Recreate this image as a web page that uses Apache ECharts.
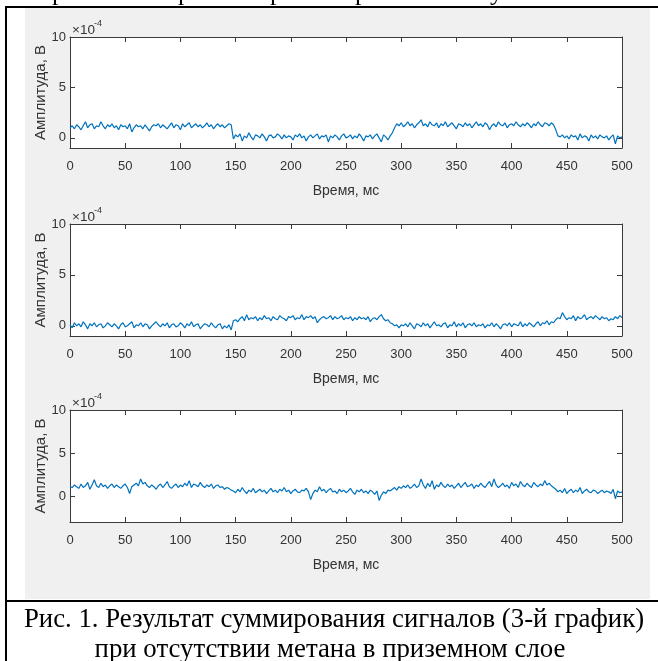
<!DOCTYPE html>
<html><head><meta charset="utf-8">
<script src="https://cdn.jsdelivr.net/npm/echarts@6/dist/echarts.min.js"></script>
<style>html,body{margin:0;padding:0;background:#fff;}#c{width:658px;height:661px;}</style>
</head><body><div id="c"></div>
<script>
// sample step (ms) between readings
const stepMs = 2;
const yTicks = [0, 5, 10];
const yMin1 = -1, yMin2 = -1, yMin3 = -3, yMax = 10;
const xLabel = 'Время, мс';
const yLabel = 'Амплитуда, В';
const caption1 = 'Рис. 1. Результат суммирования сигналов (3-й график)';
const caption2 = 'при отсутствии метана в приземном слое';

// amplitude values in units of 1e-4 V
const signal1 = [
1.0,1.2,0.9,1.3,1.1,0.8,1.2,1.6,1.0,1.3,1.4,0.9,1.2,1.1,1.6,1.2,0.9,1.3,1.1,1.4,
1.0,1.2,0.8,1.3,1.1,1.2,0.9,1.4,0.6,1.0,1.3,1.1,1.2,0.9,1.3,1.0,0.7,1.1,1.3,1.2,
1.4,1.0,1.3,1.1,0.9,1.2,1.5,1.0,1.3,1.2,0.8,1.4,1.1,1.3,1.5,1.0,1.2,1.4,1.1,1.3,
1.0,1.2,1.5,1.1,1.3,0.9,1.2,1.4,1.1,1.3,1.0,1.2,1.4,1.3,
-0.1,0.3,0.1,0.4,-0.3,0.2,0.0,0.5,0.1,-0.2,0.3,0.2,0.0,0.4,0.1,-0.3,0.2,0.3,0.0,0.1,
0.4,0.2,-0.1,0.3,0.0,0.2,0.1,-0.2,0.3,0.1,0.4,0.0,0.2,-0.3,0.1,0.3,0.0,0.2,0.4,-0.1,
0.2,0.1,0.3,-0.4,0.2,0.0,0.3,0.1,-0.2,0.2,0.4,0.0,0.1,0.3,-0.1,0.2,0.0,0.4,0.1,-0.3,
0.2,0.1,0.3,-0.1,0.2,0.4,0.0,-0.4,0.3,0.1,-0.2,0.2,
0.5,1.0,1.4,1.2,1.5,1.1,1.3,1.6,1.2,1.4,1.0,1.3,1.5,1.8,1.2,1.4,1.1,1.6,1.3,1.2,
1.5,1.0,1.4,1.2,1.6,1.1,1.3,1.5,1.2,0.9,1.4,1.3,1.1,1.5,1.2,1.4,1.0,1.3,1.6,1.2,
1.4,1.1,1.5,1.3,0.8,1.2,1.4,1.1,1.6,1.3,1.2,1.5,1.0,1.3,1.4,1.2,1.6,1.3,1.1,1.4,
1.2,1.5,1.3,1.0,1.4,1.2,1.6,1.3,1.1,1.5,1.4,1.2,1.5,1.3,
0.8,0.2,0.1,0.3,0.0,0.2,-0.1,0.3,0.1,0.2,-0.2,0.4,0.0,0.2,0.1,-0.3,0.3,0.0,0.2,-0.1,
0.3,0.1,0.0,0.2,-0.2,0.1,0.3,-0.6,0.2,0.0,0.1
];
const signal2 = [
0.1,-0.2,0.3,0.0,0.2,-0.1,0.4,0.1,-0.3,0.2,0.0,0.3,-0.1,0.1,0.2,-0.2,0.0,0.3,0.1,-0.1,
0.2,0.0,-0.3,0.1,0.3,-0.1,0.0,0.2,0.4,-0.2,0.1,0.0,0.3,-0.1,0.2,0.1,-0.3,0.0,0.2,0.4,
0.1,-0.1,0.2,0.0,0.3,-0.2,0.1,0.2,-0.1,0.0,0.3,0.1,-0.2,0.2,0.0,0.4,-0.1,0.1,0.2,-0.3,
0.0,0.2,0.1,-0.1,0.3,0.0,-0.2,0.1,0.2,-0.3,0.0,-0.2,0.1,-0.4,
0.5,0.6,0.4,0.7,0.9,0.5,1.1,0.6,0.8,0.7,0.9,0.5,0.8,0.6,1.0,0.7,0.8,0.5,0.9,0.7,
0.6,1.0,0.8,0.7,0.5,0.9,0.8,1.0,0.6,0.8,0.7,1.1,0.6,0.9,0.8,1.0,0.7,0.9,0.3,0.6,
0.8,0.9,0.7,0.8,1.0,0.6,0.9,0.7,0.8,1.0,0.6,0.8,0.7,0.9,0.5,0.8,0.6,0.9,0.7,0.8,
0.6,0.9,0.4,0.7,0.8,0.6,0.9,1.1,0.7,0.5,0.6,0.3,
0.2,0.0,0.1,-0.2,0.1,0.0,0.2,-0.1,0.3,0.0,-0.3,0.2,0.1,-0.1,0.3,0.0,0.2,-0.2,0.1,0.4,
0.0,0.1,-0.1,0.2,0.3,-0.2,0.1,0.0,0.4,-0.1,0.2,0.0,0.3,-0.2,0.1,0.2,0.0,0.3,-0.1,0.1,
0.0,0.2,-0.2,0.1,0.0,0.3,-0.1,0.2,0.0,-0.3,0.1,0.2,0.0,0.3,-0.1,0.2,0.1,0.0,0.4,-0.1,
0.2,0.0,0.3,0.1,-0.1,0.2,0.4,0.0,0.3,0.2,0.5,0.1,0.4,0.3,
0.6,0.8,0.7,1.3,0.9,0.6,0.8,0.7,1.0,0.5,0.9,0.7,0.8,1.1,0.6,0.8,0.9,0.7,1.0,0.8,
0.6,0.9,0.7,0.8,0.5,0.7,0.6,0.9,0.7,1.0,0.8
];
const signal3 = [
1.1,1.0,1.3,1.1,0.9,1.4,1.0,1.2,1.6,0.8,1.3,1.9,1.2,1.0,1.5,1.1,1.3,0.9,1.2,1.4,
1.0,1.3,1.1,0.9,1.2,1.4,1.0,0.3,1.1,1.3,1.5,1.2,2.0,1.4,1.6,1.2,1.0,1.3,1.1,0.8,
1.2,1.4,1.0,1.3,1.7,1.1,0.9,1.2,1.4,1.0,1.3,1.1,1.5,1.2,1.8,1.0,1.4,1.3,1.1,1.6,
1.2,1.0,1.3,1.1,1.4,0.9,1.2,1.3,1.0,1.1,0.8,1.0,0.9,0.7,
0.6,0.4,0.8,0.5,1.0,0.6,0.3,0.7,0.5,0.9,0.4,0.6,0.8,0.5,0.7,0.3,0.6,0.9,0.5,0.7,
0.4,0.8,0.6,1.0,0.5,0.7,0.3,0.6,0.8,0.5,0.4,0.7,0.6,0.9,0.5,-0.4,0.3,0.7,0.5,1.1,
0.6,0.8,0.4,0.7,0.9,0.5,0.6,0.3,0.8,0.5,0.7,0.4,0.6,0.9,0.5,0.2,0.7,0.5,0.8,0.4,
0.6,0.3,0.7,0.5,0.2,0.6,-0.5,0.1,0.5,0.3,0.7,0.6,
0.8,1.0,0.7,1.1,0.9,1.2,1.0,1.3,0.9,1.1,1.4,1.0,1.2,2.0,1.3,0.9,1.5,1.1,1.8,0.8,
1.3,1.1,1.6,1.2,1.0,1.4,1.1,1.3,0.9,1.2,1.5,1.0,1.3,1.6,1.1,1.2,1.4,0.9,1.3,1.1,
1.5,1.2,1.0,1.4,1.7,1.1,2.0,1.3,1.0,1.2,1.5,1.1,1.3,0.9,1.6,1.2,1.4,1.0,1.7,1.3,
1.1,1.5,1.2,1.0,1.6,1.3,1.1,1.4,1.2,1.8,1.3,1.5,1.2,1.0,
0.8,0.5,0.7,0.4,0.9,0.3,0.6,0.8,0.4,0.7,0.5,1.0,0.3,0.6,0.8,0.5,0.4,0.7,0.6,0.3,
0.5,0.7,0.4,0.6,0.5,0.3,0.8,-0.3,0.6,0.4,0.5
];

const chart = echarts.init(document.getElementById('c'), null, {renderer: 'canvas'});
const axisCol = '#3a3a3a';
const txtCol = '#333';
const font = 'Liberation Sans, Arial, sans-serif';
const serif = '"Liberation Serif", "Times New Roman", serif';
const grids = [
  {top: 37, height: 111, min: yMin1, data: signal1},
  {top: 224, height: 112, min: yMin2, data: signal2},
  {top: 410, height: 112, min: yMin3, data: signal3}
];
const xAxes = [], yAxes = [], series = [], gridOpts = [];
const graphics = [];
graphics.push({type: 'rect', shape: {x: 25, y: 8, width: 625, height: 591}, style: {fill: '#f0f0f0'}, z: -10, silent: true});
graphics.push({type: 'line', shape: {x1: 6, y1: 7, x2: 658, y2: 7}, style: {stroke: '#000', lineWidth: 2}});
graphics.push({type: 'line', shape: {x1: 6, y1: 6, x2: 6, y2: 661}, style: {stroke: '#000', lineWidth: 2}});
graphics.push({type: 'line', shape: {x1: 6, y1: 601, x2: 658, y2: 601}, style: {stroke: '#000', lineWidth: 2}});
// descenders of the previous (cut-off) text line
[[52, 'р'], [178, 'р'], [270, 'р'], [355, 'р'], [490, 'у']].forEach(p => {
  graphics.push({type: 'text', x: p[0], y: 6, style: {text: p[1], font: '26px ' + serif, fill: '#000', verticalAlign: 'bottom'}});
});
graphics.push({type: 'text', x: 334, y: 606, style: {text: caption1, font: '26.8px ' + serif, fill: '#000', align: 'center'}});
graphics.push({type: 'text', x: 330, y: 636, style: {text: caption2, font: '26.8px ' + serif, fill: '#000', align: 'center'}});

grids.forEach((g, i) => {
  gridOpts.push({left: 70, top: g.top, width: 552, height: g.height, show: true, backgroundColor: '#fff', borderWidth: 0});
  const pts = g.data.map((v, k) => [k * stepMs, v]);
  const axLine = {show: true, onZero: false, lineStyle: {color: axisCol, width: 1}};
  const tick = {show: true, inside: true, length: 5, lineStyle: {color: axisCol}};
  xAxes.push({gridIndex: i, type: 'value', position: 'bottom', min: 0, max: 500, interval: 50,
    axisLine: axLine, axisTick: tick, splitLine: {show: false},
    axisLabel: {color: txtCol, fontSize: 13, fontFamily: font, margin: 12, showMinLabel: true, showMaxLabel: true},
    name: xLabel, nameLocation: 'middle', nameGap: 36, nameMoveOverlap: false,
    nameTextStyle: {color: txtCol, fontSize: 14, fontFamily: font}});
  xAxes.push({gridIndex: i, type: 'value', position: 'top', min: 0, max: 500, interval: 50,
    axisLine: axLine, axisTick: tick, splitLine: {show: false}, axisLabel: {show: false}});
  yAxes.push({gridIndex: i, type: 'value', position: 'left', min: g.min, max: yMax,
    axisLine: axLine, axisTick: Object.assign({}, tick, {customValues: yTicks}), splitLine: {show: false},
    axisLabel: {color: txtCol, fontSize: 13, fontFamily: font, margin: 4, customValues: yTicks},
    name: yLabel, nameLocation: 'middle', nameGap: 22, nameRotate: 90, nameMoveOverlap: false,
    nameTextStyle: {color: txtCol, fontSize: 15, fontFamily: font}});
  yAxes.push({gridIndex: i, type: 'value', position: 'right', min: g.min, max: yMax,
    axisLine: axLine, axisTick: Object.assign({}, tick, {customValues: yTicks}), splitLine: {show: false},
    axisLabel: {show: false}});
  series.push({type: 'line', xAxisIndex: i * 2, yAxisIndex: i * 2, data: pts, showSymbol: false, symbol: 'none',
    lineStyle: {color: '#0072BD', width: 1.2}, animation: false, silent: true});
  graphics.push({type: 'text', left: 72, top: g.top - 14, style: {text: '×10', font: '13.5px ' + font, fill: txtCol}});
  graphics.push({type: 'text', left: 94, top: g.top - 18, style: {text: '-4', font: '9px ' + font, fill: txtCol}});
});

chart.setOption({
  animation: false,
  backgroundColor: '#fff',
  grid: gridOpts,
  xAxis: xAxes,
  yAxis: yAxes,
  series: series,
  graphic: graphics
});
</script></body></html>
